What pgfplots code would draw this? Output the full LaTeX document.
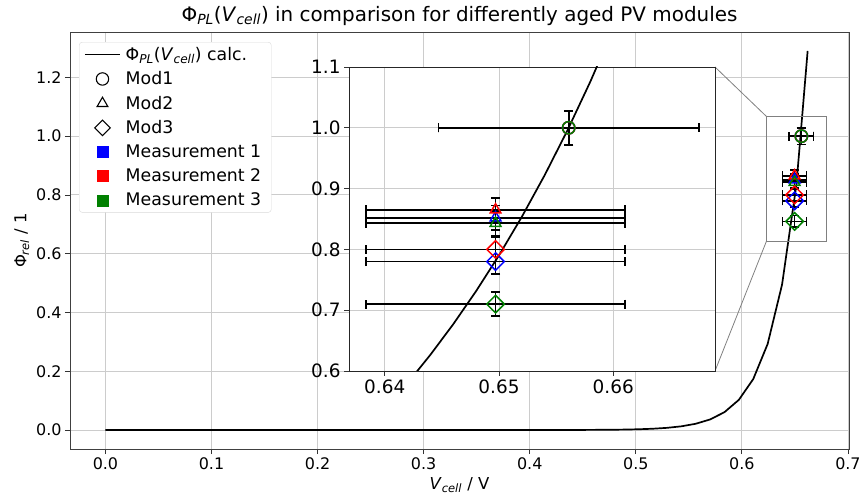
\documentclass[border=0pt]{standalone}
\usepackage{fontspec}
\setmainfont{DejaVu Sans}
\usepackage{pgfplots}
\pgfplotsset{compat=1.18}
\definecolor{mgreen}{rgb}{0,0.5,0}
\definecolor{gridc}{rgb}{0.80,0.80,0.80}
\newcommand{\sub}[1]{\textsubscript{\textit{#1}}}
\pgfplotsset{
  mlegend/.style={legend image code/.code={\draw[##1] plot[only marks] coordinates {(17.5bp,0bp)};}},
  eb/.style={only marks, mark size=6.2bp, mark options={line width=1.5bp, solid},
    error bars/x dir=both, error bars/x explicit, error bars/y dir=both, error bars/y explicit,
    error bars/error bar style={black, line width=1.7bp},
    error bars/error mark options={rotate=90, black, line width=1.7bp, mark size=4.5bp}},
  dia/.style={mark=square, mark options={rotate=45, line width=1.5bp, solid}},
}
\newcommand{\datapoints}{%
  \addplot[eb, blue, mark=o, forget plot] coordinates {(0.6561,1.0) +- (0.0114,0.028)};
  \addplot[eb, red, mark=o, forget plot] coordinates {(0.6561,1.0) +- (0.0114,0.028)};
  \addplot[eb, mgreen, mark=o, forget plot] coordinates {(0.6561,1.0) +- (0.0114,0.028)};
  \addplot[eb, blue, mark=triangle, forget plot] coordinates {(0.6497,0.852) +- (0.01135,0.02)};
  \addplot[eb, red, mark=triangle, forget plot] coordinates {(0.6497,0.865) +- (0.01135,0.02)};
  \addplot[eb, mgreen, mark=triangle, forget plot] coordinates {(0.6497,0.843) +- (0.01135,0.02)};
  \addplot[eb, blue, dia, forget plot] coordinates {(0.6497,0.78) +- (0.01135,0.02)};
  \addplot[eb, red, dia, forget plot] coordinates {(0.6497,0.80) +- (0.01135,0.02)};
  \addplot[eb, mgreen, dia, forget plot] coordinates {(0.6497,0.71) +- (0.01135,0.02)};
}
\begin{document}
\begin{tikzpicture}
\path[use as bounding box] (-70bp,-45bp) rectangle (791bp,449bp);
\begin{axis}[
  name=main, at={(0bp,0bp)}, anchor=south west,
  scale only axis, width=779bp, height=417bp,
  xmin=-0.0334, xmax=0.701, ymin=-0.0645, ymax=1.3545,
  xtick={0,0.1,...,0.7}, ytick={0,0.2,...,1.2},
  /pgf/number format/assume math mode=true,
  xticklabel style={/pgf/number format/.cd, fixed, fixed zerofill, precision=1},
  yticklabel style={/pgf/number format/.cd, fixed, fixed zerofill, precision=1},
  ticklabel style={font=\fontsize{16}{19}\selectfont},
  label style={font=\fontsize{16.5}{20}\selectfont},
  xlabel style={yshift=-1bp},
  tick align=outside, major tick length=5bp, tick style={black!80, line width=0.8bp},
  xtick pos=bottom, ytick pos=left,
  axis line style={black!75, line width=0.9bp},
  grid=major, major grid style={gridc, line width=0.9bp},
  xlabel={\textit{V}\sub{cell} / V},
  ylabel={Φ\sub{rel} / 1},
  title={Φ\sub{PL}(\textit{V}\sub{cell}) in comparison for differently aged PV modules},
  title style={font=\fontsize{20}{23}\selectfont, yshift=-3bp},
  legend style={at={(0.0116,0.976)}, anchor=north west, draw=black!15, rounded corners=3bp,
    fill=white, font=\fontsize{17.4}{20}\selectfont,
    row sep=5.8bp, inner xsep=5bp, inner ysep=3bp, cells={anchor=west},
    nodes={inner xsep=5bp}},
  legend image code/.code={\draw[#1] (0bp,0bp) -- (35bp,0bp);},
]
\addlegendimage{black, line width=1.5bp}
\addlegendentry{Φ\sub{PL}(\textit{V}\sub{cell}) calc.}
\addlegendimage{mlegend, black, mark=o, mark size=6.2bp, mark options={line width=1.1bp}}
\addlegendentry{Mod1}
\addlegendimage{mlegend, black, mark=triangle, mark size=6.2bp, mark options={line width=1.1bp}}
\addlegendentry{Mod2}
\addlegendimage{mlegend, black, mark=square, mark size=5.5bp, mark options={rotate=45, line width=1.1bp}}
\addlegendentry{Mod3}
\addlegendimage{mlegend, blue, mark=square*, mark size=5.5bp}
\addlegendentry{Measurement 1}
\addlegendimage{mlegend, red, mark=square*, mark size=5.5bp}
\addlegendentry{Measurement 2}
\addlegendimage{mlegend, mgreen, mark=square*, mark size=5.5bp}
\addlegendentry{Measurement 3}
\addplot[black, line width=1.7bp, forget plot] coordinates {
 (0,0) (0.1,0) (0.2,0) (0.3,0) (0.4,0.00005) (0.44786,0.0004) (0.47500,0.00092)
 (0.48857,0.00155) (0.50214,0.00262) (0.51571,0.00443) (0.52929,0.00747)
 (0.54286,0.01263) (0.55643,0.02132) (0.57000,0.0360) (0.58357,0.0608)
 (0.59714,0.1027) (0.61071,0.1734) (0.62429,0.2928) (0.63786,0.4945)
 (0.65143,0.8350) (0.6620,1.29)};
\datapoints
\draw[gray, line width=0.8bp] (axis cs:0.6232,0.643) rectangle (axis cs:0.6795,1.067);
\coordinate (rTL) at (axis cs:0.6232,1.067);
\coordinate (rBL) at (axis cs:0.6232,0.643);
\end{axis}
\draw[gray, line width=0.8bp] (279bp+366bp,382bp) -- (rTL);
\draw[gray, line width=0.8bp] (279bp+366bp,78bp) -- (rBL);
\begin{axis}[
  name=inset, at={(279bp,78bp)}, anchor=south west,
  scale only axis, width=366bp, height=304bp,
  xmin=0.63687, xmax=0.66891, ymin=0.6, ymax=1.1,
  xtick={0.64,0.65,0.66}, ytick={0.6,0.7,0.8,0.9,1.0,1.1},
  /pgf/number format/assume math mode=true,
  xticklabel style={/pgf/number format/.cd, fixed, fixed zerofill, precision=2},
  yticklabel style={/pgf/number format/.cd, fixed, fixed zerofill, precision=1},
  ticklabel style={font=\fontsize{18.5}{21}\selectfont},
  tick align=outside, major tick length=5bp, tick style={black!80, line width=0.8bp},
  xtick pos=bottom, ytick pos=left,
  axis line style={black!85, line width=0.9bp},
  grid=major, major grid style={gridc, line width=0.9bp},
  axis background/.style={fill=white},
]
\addplot[black, line width=1.7bp, forget plot] coordinates {
 (0.636,0.4428) (0.638,0.4878) (0.640,0.5371) (0.642,0.5802) (0.644,0.6268) (0.646,0.6771)
 (0.648,0.7315) (0.650,0.7902) (0.652,0.8536) (0.654,0.9221) (0.656,0.9961)
 (0.658,1.0761) (0.660,1.1625)};
\datapoints
\end{axis}
\end{tikzpicture}
\end{document}
